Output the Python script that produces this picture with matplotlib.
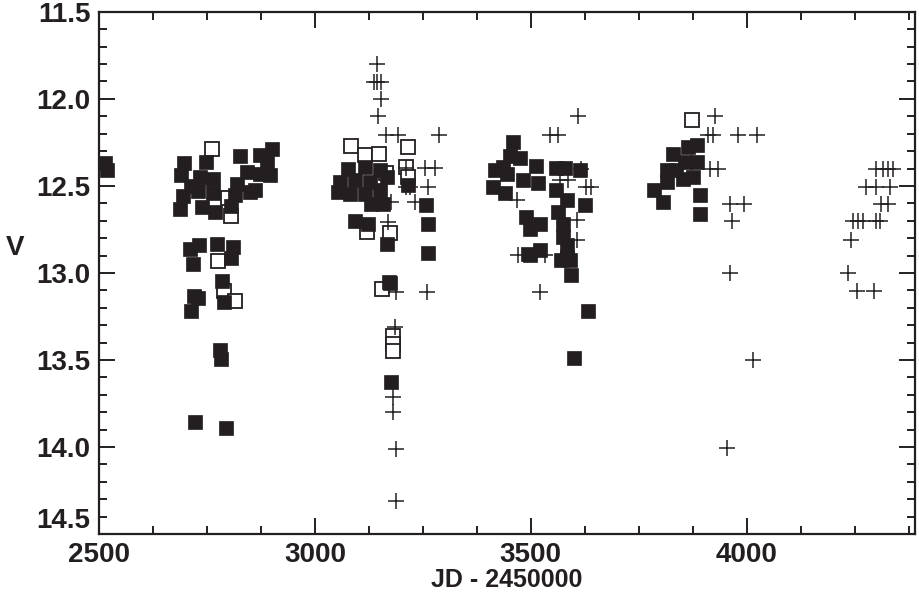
import matplotlib
matplotlib.use('Agg')
import matplotlib.pyplot as plt
from matplotlib.ticker import MultipleLocator

# V-band light curve, JD - 2450000 vs V magnitude
filled_jd = [2515, 2518,
             2697, 2691, 2749, 2734, 2765, 2730, 2765, 2695, 2687, 2738, 2769, 2712,
             2826, 2873, 2900, 2888, 2842, 2873, 2896, 2819, 2815, 2850, 2861, 2806,
             2731, 2711, 2718, 2774, 2811, 2806, 2784, 2789, 2720, 2729, 2714,
             2780, 2783, 2723, 2794,
             3077, 3116, 3150, 3167, 3058, 3093, 3127, 3054, 3081, 3116, 3150,
             3131, 3158, 3093, 3123, 3168, 3258, 3261, 3261, 3172, 3216, 3174,
             3177,
             3459, 3451, 3475, 3513, 3559, 3579, 3615, 3417, 3444, 3413, 3440,
             3482, 3517, 3559, 3583, 3563, 3625, 3490, 3521, 3498, 3575, 3575,
             3583, 3521, 3494, 3584, 3436,
             3498, 3571, 3590, 3594, 3633, 3600,
             3786, 3806, 3830, 3816, 3816, 3864, 3884, 3857, 3884, 3853, 3891,
             3893, 3837, 3876]
filled_v = [12.37, 12.41,
            12.37, 12.44, 12.36, 12.45, 12.46, 12.53, 12.54, 12.56, 12.63, 12.62, 12.65, 12.50,
            12.33, 12.32, 12.285, 12.37, 12.42, 12.43, 12.44, 12.49, 12.55, 12.535, 12.525, 12.617,
            12.842, 12.862, 12.946, 12.831, 12.85, 12.917, 13.048, 13.167, 13.131, 13.144, 13.217,
            13.442, 13.496, 13.858, 13.892,
            12.40, 12.39, 12.41, 12.45, 12.477, 12.467, 12.477, 12.534, 12.544, 12.544, 12.525,
            12.605, 12.605, 12.70, 12.716, 12.831, 12.611, 12.716, 12.888, 13.05, 12.496, 13.057,
            13.626,
            12.247, 12.33, 12.34, 12.385, 12.395, 12.395, 12.41, 12.41, 12.43, 12.505, 12.54,
            12.467, 12.486, 12.525, 12.58, 12.65, 12.61, 12.68, 12.72, 12.745, 12.72, 12.793,
            12.84, 12.87, 12.89, 12.91, 12.39,
            12.898, 12.927, 12.927, 13.013, 13.22, 13.488,
            12.521, 12.592, 12.318, 12.41, 12.477, 12.276, 12.266, 12.362, 12.362, 12.458, 12.553,
            12.659, 12.41, 12.448]

open_jd = [2762, 2805, 2799, 2776, 2789, 2814,
           3083, 3117, 3149, 3215, 3212, 3216, 3164, 3120, 3175, 3156,
           3180, 3180, 3180,
           3873]
open_v = [12.29, 12.67, 12.57, 12.929, 13.106, 13.163,
          12.268, 12.323, 12.314, 12.279, 12.39, 12.448, 12.425, 12.764, 12.77, 13.095,
          13.36, 13.41, 13.45,
          12.119]

cross_jd = [3143, 3137, 3144, 3154, 3154, 3147, 3164, 3193, 3288, 3255, 3278, 3211,
            3262, 3212, 3220, 3232, 3177, 3170, 3189, 3259, 3185, 3180, 3180, 3187, 3187,
            3610, 3544, 3563, 3617, 3629, 3640, 3467, 3606, 3606, 3471, 3532, 3521,
            3567, 3586,
            3926, 3911, 3922, 3980, 4023, 3914, 3934, 3961, 3995, 3965, 3961, 4015, 3955,
            4300, 4316, 4327, 4339, 4277, 4300, 4331, 4312, 4327,
            4246, 4258, 4269, 4300, 4308, 4242, 4235, 4256, 4296]
cross_v = [11.80, 11.902, 11.902, 11.902, 11.998, 12.099, 12.205, 12.205, 12.205, 12.396, 12.396, 12.396,
           12.505, 12.505, 12.505, 12.595, 12.595, 12.706, 13.109, 13.109, 13.31, 13.71, 13.80, 14.01, 14.31,
           12.10, 12.205, 12.205, 12.40, 12.506, 12.506, 12.582, 12.697, 12.812, 12.898, 12.898, 13.109,
           12.467, 12.467,
           12.099, 12.205, 12.205, 12.205, 12.205, 12.404, 12.404, 12.601, 12.601, 12.703, 13.0, 13.498, 14.006,
           12.404, 12.404, 12.404, 12.404, 12.506, 12.506, 12.506, 12.601, 12.601,
           12.703, 12.703, 12.703, 12.703, 12.703, 12.808, 13.0, 13.105, 13.105]

ink = '#231f20'
plt.rcParams['font.family'] = 'Liberation Sans'
plt.rcParams['font.weight'] = 'bold'

fig = plt.figure(figsize=(9.19, 5.94), dpi=100)
ax = fig.add_axes([0.1077, 0.101, 0.888, 0.879])

ax.plot(open_jd, open_v, 's', ms=10, mfc='white', mec=ink, mew=1.3, zorder=2)
ax.plot(filled_jd, filled_v, 's', ms=10, mfc=ink, mec=ink, mew=0.5, zorder=3)
ax.plot(cross_jd, cross_v, '+', ms=11.5, color=ink, mew=1.1, zorder=4)

ax.set_xlim(2500, 4390)
ax.set_ylim(14.5, 11.5)

ax.xaxis.set_major_locator(MultipleLocator(500))
ax.xaxis.set_minor_locator(MultipleLocator(125))
ax.yaxis.set_major_locator(MultipleLocator(0.5))
ax.yaxis.set_minor_locator(MultipleLocator(0.1))
ax.yaxis.set_major_formatter(plt.FormatStrFormatter('%.1f'))

ax.tick_params(which='both', direction='in', top=True, right=True, width=1.4, color=ink,
               labelsize=20, pad=6, labelcolor=ink)
ax.tick_params(which='major', length=11.5)
ax.tick_params(which='minor', length=6)
for s in ax.spines.values():
    s.set_linewidth(1.6)
    s.set_color(ink)

ax.set_xlabel('JD - 2450000', fontsize=18, fontweight='bold', color=ink, labelpad=0)
ax.set_ylabel('V', fontsize=20, fontweight='bold', color=ink, rotation=0, ha='center', va='center')
ax.yaxis.set_label_coords(-0.103, 0.547)

# bottom y label sits above the axis line, as in the original
fig.canvas.draw()
for tick in ax.yaxis.get_major_ticks():
    if abs(tick.get_loc() - 14.5) < 1e-6:
        tick.label1.set_va('bottom')

fig.savefig('out.png', dpi=100)
